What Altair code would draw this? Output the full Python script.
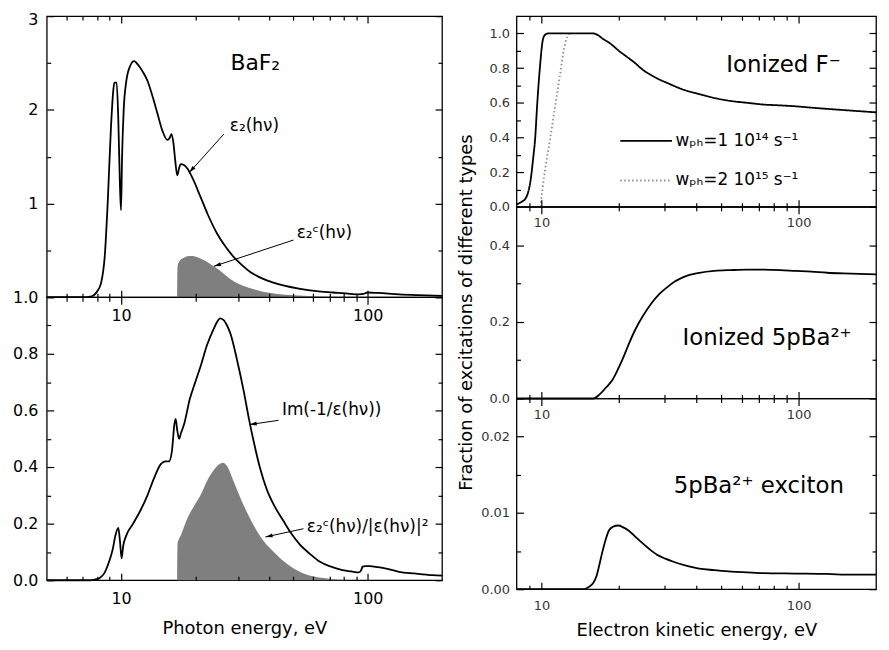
import math
import altair as alt
import pandas as pd

FONT = "DejaVu Sans"

# ---------------- data ----------------
# Left top: epsilon_2(hv) of BaF2
eps2_E = [5, 7.0, 7.6, 8.0, 8.3, 8.6, 8.84, 9.1, 9.3, 9.4, 9.6, 9.75, 9.9, 10.0, 10.1, 10.25, 10.5, 10.9, 11.3, 11.8,
          12.3, 12.8, 13.4, 14.05, 14.7, 15.4, 15.75, 16.0, 16.3, 16.6, 16.9, 17.2, 17.45, 18.0, 18.6, 19.5, 21.0, 22.5,
          24.5, 26.5, 28.6, 31.0, 33.4, 36.0, 39.0, 45.0, 53.2, 62.0, 72.4, 85.0, 92.0, 96.0, 100.0, 110.0, 134.0,
          160.0, 200.0]
eps2_v = [0, 0, 0.01, 0.06, 0.15, 0.45, 1.03, 1.8, 2.2, 2.29, 2.29, 1.9, 1.2, 0.93, 1.5, 1.99, 2.3, 2.47, 2.52, 2.47,
          2.4, 2.31, 2.15, 1.96, 1.78, 1.68, 1.7, 1.74, 1.65, 1.45, 1.30, 1.38, 1.42, 1.41, 1.37, 1.27, 1.07, 0.88,
          0.68, 0.54, 0.43, 0.34, 0.27, 0.22, 0.18, 0.13, 0.09, 0.065, 0.05, 0.035, 0.03, 0.035, 0.05, 0.045, 0.03,
          0.022, 0.015]
eps2c_E = [16.9, 16.95, 17.3, 18.0, 18.8, 19.5, 20.5, 21.5, 22.5, 23.7, 25.0, 26.5, 28.6, 31.0, 34.5, 38.0, 43.0,
           50.0, 60.0, 75.0, 90.0]
eps2c_v = [0, 0.33, 0.39, 0.42, 0.44, 0.44, 0.425, 0.40, 0.37, 0.33, 0.29, 0.235, 0.17, 0.125, 0.085, 0.055, 0.035,
           0.02, 0.01, 0.003, 0]

# Left bottom: Im(-1/eps)
loss_E = [5, 7.5, 7.8, 8.2, 8.56, 8.9, 9.26, 9.5, 9.75, 9.9, 10.06, 10.2, 10.47, 11.2, 12.04, 12.8, 13.6, 14.5, 15.1,
          15.65, 16.1, 16.45, 16.65, 16.9, 17.2, 17.5, 18.0, 19.0, 20.0, 21.0, 22.3, 23.8, 24.6, 25.2, 26.0, 26.9,
          27.8, 29.5, 31.4, 33.0, 34.5, 36.5, 39.0, 42.0, 45.5, 49.0, 53.2, 58.0, 64.0, 71.0, 79.0, 86.0, 92.0, 94.0,
          95.3, 98.0, 102.0, 110.0, 120.0, 134.0, 155.0, 183.0, 200.0]
loss_v = [0, 0, 0.002, 0.008, 0.025, 0.06, 0.11, 0.16, 0.185, 0.14, 0.077, 0.12, 0.155, 0.2, 0.25, 0.30, 0.36, 0.41,
          0.42, 0.42, 0.46, 0.55, 0.57, 0.53, 0.50, 0.52, 0.55, 0.64, 0.70, 0.755, 0.83, 0.89, 0.915, 0.925, 0.92,
          0.90, 0.87, 0.78, 0.67, 0.57, 0.49, 0.40, 0.32, 0.26, 0.21, 0.165, 0.125, 0.095, 0.065, 0.048, 0.036, 0.031,
          0.028, 0.035, 0.048, 0.05, 0.05, 0.046, 0.04, 0.03, 0.024, 0.018, 0.016]
lossc_E = [16.9, 16.95, 17.5, 18.6, 19.7, 21.0, 22.3, 23.8, 25.0, 25.9, 26.8, 28.6, 30.5, 32.4, 33.9, 36.7, 39.5,
           42.8, 47.0, 53.0, 60.0, 70.0, 80.0, 90.0]
lossc_v = [0, 0.13, 0.16, 0.22, 0.26, 0.30, 0.35, 0.39, 0.41, 0.415, 0.405, 0.35, 0.29, 0.24, 0.206, 0.155, 0.12,
           0.089, 0.058, 0.03, 0.014, 0.005, 0.001, 0]

# Right top: ionized F-
LEG1 = "wₚₕ=1 10¹⁴ s⁻¹"
LEG2 = "wₚₕ=2 10¹⁵ s⁻¹"
fion1_E = [8.0, 8.4, 8.69, 8.9, 9.07, 9.27, 9.47, 9.6, 9.74, 9.9, 10.03, 10.15, 10.3, 10.6, 12.0, 14.0, 15.9, 16.6,
           17.3, 18.6, 20.0, 21.5, 23.1, 24.8, 26.7, 28.7, 30.8, 35.0, 41.1, 48.0, 54.8, 63.0, 73.0, 85.0, 97.0,
           112.0, 129.0, 160.0, 200.0]
fion1_v = [0.015, 0.03, 0.05, 0.09, 0.15, 0.27, 0.41, 0.56, 0.70, 0.83, 0.92, 0.97, 0.99, 1.0, 1.0, 1.0, 1.0, 0.99,
           0.97, 0.94, 0.90, 0.865, 0.83, 0.79, 0.76, 0.735, 0.715, 0.68, 0.65, 0.625, 0.61, 0.60, 0.59, 0.585, 0.58,
           0.572, 0.565, 0.555, 0.545]
fion2_E = [9.9, 10.3, 10.78, 11.25, 11.75, 12.27, 12.6, 13.0]
fion2_v = [0, 0.2, 0.38, 0.56, 0.74, 0.92, 0.98, 1.0]

# Right middle: ionized 5p Ba2+
ba_E = [8.0, 15.9, 16.8, 17.8, 18.9, 19.7, 20.6, 21.8, 23.1, 24.8, 26.7, 28.7, 30.8, 33.0, 35.5, 38.0, 41.1, 47.0,
        54.8, 63.0, 73.0, 85.0, 97.0, 112.0, 129.0, 160.0, 200.0]
ba_v = [0, 0, 0.01, 0.028, 0.049, 0.072, 0.10, 0.14, 0.178, 0.215, 0.247, 0.272, 0.29, 0.305, 0.316, 0.323, 0.328,
        0.333, 0.335, 0.336, 0.336, 0.335, 0.333, 0.331, 0.328, 0.326, 0.324]

# Right bottom: 5p Ba2+ exciton
exc_E = [8.0, 14.7, 15.3, 15.9, 16.4, 16.8, 17.2, 17.6, 18.3, 19.0, 19.9, 20.8, 21.8, 23.0, 24.4, 26.2, 28.2, 30.3,
         32.6, 36.5, 41.1, 47.0, 54.8, 63.0, 73.0, 97.0, 129.0, 160.0, 200.0]
exc_v = [0, 0, 0.0003, 0.0008, 0.0018, 0.0032, 0.0047, 0.006, 0.0077, 0.0082, 0.00835, 0.0081, 0.0077, 0.007, 0.0062,
         0.0053, 0.0045, 0.004, 0.0036, 0.0031, 0.0027, 0.0025, 0.0023, 0.0022, 0.0021, 0.00205, 0.002, 0.0019, 0.0019]

# tick values
LX_MAJOR = [10, 100]
LX_MINOR = [6, 7, 8, 9, 20, 30, 40, 50, 60, 70, 80, 90]
RX_MAJOR = [10, 100]
RX_MINOR = [9, 20, 30, 40, 50, 60, 70, 80, 90]
TL_Y_MAJOR = [0, 1, 2, 3]
TL_Y_MINOR = [0.5, 1.5, 2.5]
TL_Y_LABELS = [1, 2, 3]
BL_Y_MAJOR = [0, 0.2, 0.4, 0.6, 0.8, 1.0]
BL_Y_MINOR = [0.1, 0.3, 0.5, 0.7, 0.9]
R1_Y_MAJOR = [0, 0.2, 0.4, 0.6, 0.8, 1.0]
R1_Y_MINOR = [0.1, 0.3, 0.5, 0.7, 0.9]
R2_Y_MAJOR = [0, 0.2, 0.4]
R2_Y_MINOR = [0.1, 0.3]
R3_Y_MAJOR = [0, 0.01, 0.02]
R3_Y_MINOR = [0.005, 0.015]

# annotation texts (anchor in data coordinates)
TL_LABELS = ["BaF₂", "ε₂(hν)", "ε₂ᶜ(hν)"]
TL_LAB_E = [35.0, 27.6, 51.5]
TL_LAB_V = [2.5, 1.83, 0.68]
BL_LABELS = ["Im(-1/ε(hν))", "ε₂ᶜ(hν)/|ε(hν)|²"]
BL_LAB_E = [44.9, 56.6]
BL_LAB_V = [0.60, 0.188]
R_LABELS = ["Ionized F⁻", "Ionized 5pBa²⁺", "5pBa²⁺ exciton"]
R_LAB_E = [87.4, 75.4, 70.0]
R_LAB_V = [0.82, 0.157, 0.01355]

# arrows: (from E, from v) -> (to E, to v)
TL_ARR_E0 = [26.1, 50.0]
TL_ARR_V0 = [1.74, 0.61]
TL_ARR_E1 = [18.9, 23.8]
TL_ARR_V1 = [1.33, 0.33]
BL_ARR_E0 = [43.5, 54.9]
BL_ARR_V0 = [0.565, 0.182]
BL_ARR_E1 = [33.2, 38.5]
BL_ARR_V1 = [0.55, 0.153]

# ---------------- layout ----------------
XL = [5, 200]
XR = [8, 200]
WL, WR = 398, 362
H_TL, H_BL = 283, 285
H_R1, H_R2, H_R3 = 192, 193, 192
Y_TL, Y_BL = [0, 3], [0, 1.0]
Y_R1, Y_R2, Y_R3 = [0, 1.1], [0, 0.5], [0, 0.025]


def in_list(vals):
    return "indexof([%s], datum.value) >= 0" % ",".join(str(v) for v in vals)


def tick_axis(orient, major, minor, labelled=None, fmt=".1f", size=16, color="black", pad=9,
              title=None, title_pad=10, title_y=None, edge_label=None):
    kw = dict(orient=orient, values=sorted(major + minor), domain=False, grid=False, ticks=True,
              tickColor="black", tickWidth=1.2,
              tickSize={"condition": {"test": in_list(major), "value": -7}, "value": -4},
              zindex=3, title=title)
    if labelled is None:
        kw["labels"] = False
    else:
        kw.update(labels=True, labelExpr="%s ? format(datum.value, '%s') : ''" % (in_list(labelled), fmt),
                  labelFont=FONT, labelFontSize=size, labelColor=color, labelPadding=pad + 7,
                  labelOverlap=False, labelFlush=False)
        if edge_label is not None:
            # nudge the label that sits on the very top edge so it stays on the page
            kw["labelOffset"] = {"condition": {"test": "datum.value == %s" % edge_label, "value": 3}, "value": 0}
    if title:
        kw.update(titleFont=FONT, titleFontSize=18, titleFontWeight="normal", titleColor="black",
                  titlePadding=title_pad)
        if title_y is not None:
            kw["titleY"] = title_y
    return alt.Axis(**kw)


def xe(dom, axis=None):
    return alt.X("E:Q", scale=alt.Scale(type="log", domain=dom, nice=False), axis=axis)


def ye(dom, axis=None):
    return alt.Y("v:Q", scale=alt.Scale(domain=dom, nice=False, zero=False), axis=axis)


def df(E, v):
    return pd.DataFrame({"E": E, "v": v})


def text_layer(E, v, t, xdom, ydom, size, align):
    d = pd.DataFrame({"E": E, "v": v, "t": t})
    return alt.Chart(d).mark_text(font=FONT, fontSize=size, align=align, baseline="middle",
                                  color="black").encode(x=xe(xdom), y=ye(ydom), text="t:N")


def arrow_layers(E0, V0, E1, V1, xdom, ydom, w, h):
    rows, heads = [], []
    lx0, lx1 = math.log10(xdom[0]), math.log10(xdom[1])
    for i in range(len(E0)):
        rows.append({"E": E0[i], "v": V0[i], "id": i})
        rows.append({"E": E1[i], "v": V1[i], "id": i})
        dx = w * (math.log10(E1[i]) - math.log10(E0[i])) / (lx1 - lx0)
        dy = -h * (V1[i] - V0[i]) / (ydom[1] - ydom[0])
        ang = math.degrees(math.atan2(dx, -dy)) % 360
        heads.append({"E": E1[i], "v": V1[i], "ang": ang})
    lines = alt.Chart(pd.DataFrame(rows)).mark_line(color="black", strokeWidth=1).encode(
        x=xe(xdom), y=ye(ydom), detail="id:N")
    pts = alt.Chart(pd.DataFrame(heads)).mark_point(
        shape="M0,0L0.5,1.8L-0.5,1.8Z", filled=True, size=64, color="black", opacity=1, strokeWidth=0
    ).encode(x=xe(xdom), y=ye(ydom), angle=alt.Angle("ang:Q", scale=None))
    return [lines, pts]


def mirror(data, xdom, ydom, xmaj, xmin, ymaj, ymin):
    return alt.Chart(data).mark_line(strokeOpacity=0).encode(
        x=xe(xdom, tick_axis("top", xmaj, xmin)),
        y=ye(ydom, tick_axis("right", ymaj, ymin)))


LINE = dict(color="black", strokeWidth=1.8, interpolate="monotone")
GRAY = "#7f7f7f"
RLAB = "#333333"

# ---- left top ----
d_eps2 = df(eps2_E, eps2_v)
tl = alt.layer(
    alt.Chart(df(eps2c_E, eps2c_v)).mark_area(color=GRAY, interpolate="monotone").encode(x=xe(XL), y=ye(Y_TL)),
    alt.Chart(d_eps2).mark_line(**LINE).encode(
        x=xe(XL, tick_axis("bottom", LX_MAJOR, LX_MINOR, labelled=LX_MAJOR, fmt=".0f", pad=10)),
        y=ye(Y_TL, tick_axis("left", TL_Y_MAJOR, TL_Y_MINOR, labelled=TL_Y_LABELS, fmt=".0f", pad=9,
                             edge_label=3))),
    mirror(d_eps2, XL, Y_TL, LX_MAJOR, LX_MINOR, TL_Y_MAJOR, TL_Y_MINOR),
    text_layer(TL_LAB_E[:1], TL_LAB_V[:1], TL_LABELS[:1], XL, Y_TL, 22, "center"),
    text_layer(TL_LAB_E[1:], TL_LAB_V[1:], TL_LABELS[1:], XL, Y_TL, 17, "left"),
    *arrow_layers(TL_ARR_E0, TL_ARR_V0, TL_ARR_E1, TL_ARR_V1, XL, Y_TL, WL, H_TL),
).resolve_axis(x="independent", y="independent").properties(width=WL, height=H_TL)

# ---- left bottom ----
d_loss = df(loss_E, loss_v)
bl = alt.layer(
    alt.Chart(df(lossc_E, lossc_v)).mark_area(color=GRAY, interpolate="monotone").encode(x=xe(XL), y=ye(Y_BL)),
    alt.Chart(d_loss).mark_line(**LINE).encode(
        x=xe(XL, tick_axis("bottom", LX_MAJOR, LX_MINOR, labelled=LX_MAJOR, fmt=".0f", pad=10,
                           title="Photon energy, eV", title_pad=11)),
        y=ye(Y_BL, tick_axis("left", BL_Y_MAJOR, BL_Y_MINOR, labelled=BL_Y_MAJOR, fmt=".1f", pad=9))),
    mirror(d_loss, XL, Y_BL, LX_MAJOR, LX_MINOR, BL_Y_MAJOR, BL_Y_MINOR),
    text_layer(BL_LAB_E, BL_LAB_V, BL_LABELS, XL, Y_BL, 17, "left"),
    *arrow_layers(BL_ARR_E0, BL_ARR_V0, BL_ARR_E1, BL_ARR_V1, XL, Y_BL, WL, H_BL),
).resolve_axis(x="independent", y="independent").properties(width=WL, height=H_BL)

# ---- right top ----
d_f = pd.concat([
    pd.DataFrame({"E": fion2_E, "v": fion2_v, "s": LEG2}),
    pd.DataFrame({"E": fion1_E, "v": fion1_v, "s": LEG1}),
])
leg = alt.Legend(orient="none", legendX=595, legendY=117, title=None, direction="vertical",
                 symbolType="M-5.2,0H5.2", symbolSize=100, symbolStrokeWidth=1.8,
                 labelFont=FONT, labelFontSize=17, labelColor="black", labelOffset=21,
                 rowPadding=22, padding=0)
r1 = alt.layer(
    alt.Chart(d_f).mark_line(strokeWidth=1.8, interpolate="monotone").encode(
        x=xe(XR, tick_axis("bottom", RX_MAJOR, RX_MINOR, labelled=RX_MAJOR, fmt=".0f", size=13,
                           color=RLAB, pad=10)),
        y=ye(Y_R1, tick_axis("left", R1_Y_MAJOR, R1_Y_MINOR, labelled=R1_Y_MAJOR, fmt=".1f",
                             size=13, color=RLAB, pad=7)),
        color=alt.Color("s:N", scale=alt.Scale(domain=[LEG1, LEG2], range=["black", "#8c8c8c"]), legend=leg),
        strokeDash=alt.StrokeDash("s:N", scale=alt.Scale(domain=[LEG1, LEG2], range=[[1, 0], [1.5, 2.5]]),
                                  legend=leg),
    ),
    mirror(df(fion1_E, fion1_v), XR, Y_R1, RX_MAJOR, RX_MINOR, R1_Y_MAJOR, R1_Y_MINOR),
    text_layer(R_LAB_E[:1], R_LAB_V[:1], R_LABELS[:1], XR, Y_R1, 23, "center"),
).resolve_axis(x="independent", y="independent").properties(width=WR, height=H_R1)

# ---- right middle ----
d_ba = df(ba_E, ba_v)
r2 = alt.layer(
    alt.Chart(d_ba).mark_line(**LINE).encode(
        x=xe(XR, tick_axis("bottom", RX_MAJOR, RX_MINOR, labelled=RX_MAJOR, fmt=".0f", size=13,
                           color=RLAB, pad=10)),
        y=ye(Y_R2, tick_axis("left", R2_Y_MAJOR, R2_Y_MINOR, labelled=R2_Y_MAJOR, fmt=".1f",
                             size=13, color=RLAB, pad=7,
                             title="Fraction of excitations of different types", title_pad=14,
                             title_y=106))),
    mirror(d_ba, XR, Y_R2, RX_MAJOR, RX_MINOR, R2_Y_MAJOR, R2_Y_MINOR),
    text_layer(R_LAB_E[1:2], R_LAB_V[1:2], R_LABELS[1:2], XR, Y_R2, 23, "center"),
).resolve_axis(x="independent", y="independent").properties(width=WR, height=H_R2)

# ---- right bottom ----
d_exc = df(exc_E, exc_v)
r3 = alt.layer(
    alt.Chart(d_exc).mark_line(**LINE).encode(
        x=xe(XR, tick_axis("bottom", RX_MAJOR, RX_MINOR, labelled=RX_MAJOR, fmt=".0f", size=13,
                           color=RLAB, pad=10, title="Electron kinetic energy, eV", title_pad=7)),
        y=ye(Y_R3, tick_axis("left", R3_Y_MAJOR, R3_Y_MINOR, labelled=R3_Y_MAJOR, fmt=".2f",
                             size=13, color=RLAB, pad=7))),
    mirror(d_exc, XR, Y_R3, RX_MAJOR, RX_MINOR, R3_Y_MAJOR, R3_Y_MINOR),
    text_layer(R_LAB_E[2:], R_LAB_V[2:], R_LABELS[2:], XR, Y_R3, 23, "center"),
).resolve_axis(x="independent", y="independent").properties(width=WR, height=H_R3)

left = alt.vconcat(tl, bl, spacing=0, bounds="flush")
right = alt.vconcat(r1, r2, r3, spacing=0, bounds="flush")

chart = alt.hconcat(left, right, spacing=9).properties(
    padding={"left": 3, "top": 0, "right": 0, "bottom": 0}
).configure(font=FONT).configure_view(stroke="black", strokeWidth=1.3)

chart.save("out.html", embed_options={"renderer": "svg", "actions": False})
